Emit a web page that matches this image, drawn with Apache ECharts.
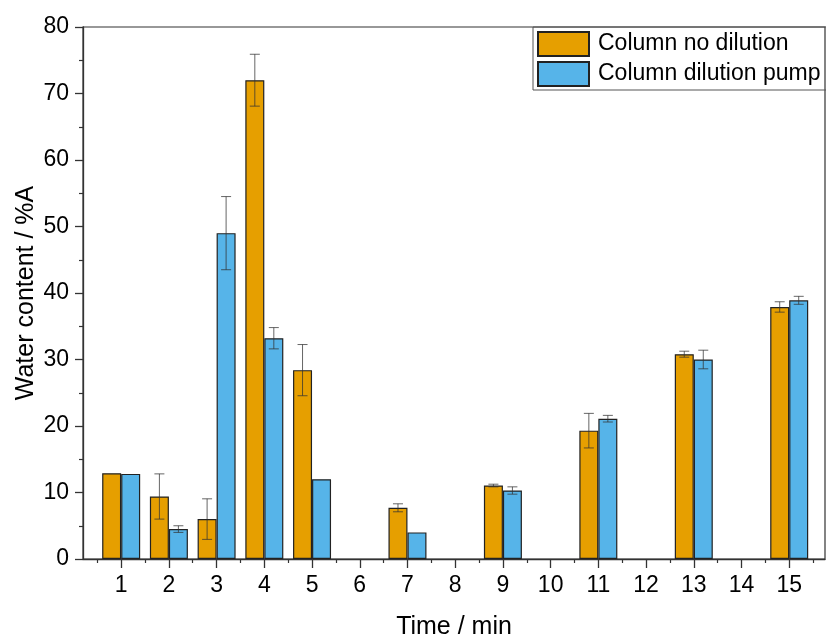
<!DOCTYPE html>
<html>
<head>
<meta charset="utf-8">
<script src="https://cdn.jsdelivr.net/npm/echarts@6/dist/echarts.min.js"></script>
<style>
  html, body { margin: 0; padding: 0; background: #fff; }
  #chart { width: 826px; height: 637px; }
</style>
</head>
<body>
<div id="chart"></div>
<script>
// sampling times (min) that have measurements
const times = [1, 2, 3, 4, 5, 7, 9, 11, 13, 15];
const noDilution = [12.9, 9.4, 6.0, 72.0, 28.4, 7.7, 11.05, 19.3, 30.8, 37.9];
const noDilutionErr = [0, 3.4, 3.05, 3.9, 3.85, 0.6, 0.2, 2.6, 0.45, 0.78];
const dilutionPump = [12.8, 4.5, 49.0, 33.2, 12.0, 4.0, 10.3, 21.1, 30.0, 38.9];
const dilutionPumpErr = [0, 0.5, 5.5, 1.6, 0, 0, 0.55, 0.5, 1.4, 0.6];
const xTicks = [1, 2, 3, 4, 5, 6, 7, 8, 9, 10, 11, 12, 13, 14, 15];
const xMinorTicks = [0.5, 1.5, 2.5, 3.5, 4.5, 5.5, 6.5, 7.5, 8.5, 9.5, 10.5, 11.5, 12.5, 13.5, 14.5, 15.5];

const barW = 19;
const font = 'Arial, "Liberation Sans", sans-serif';

function errorBars(offset) {
  return function (params, api) {
    const x = api.value(0);
    const y = api.value(1);
    const e = api.value(2);
    if (!e) return null;
    const top = api.coord([x, y + e]);
    const bot = api.coord([x, y - e]);
    const cx = top[0] + offset;
    const style = { stroke: '#333', lineWidth: 1, opacity: 0.75 };
    return {
      type: 'group',
      children: [
        { type: 'line', shape: { x1: cx, y1: top[1], x2: cx, y2: bot[1] }, style: style },
        { type: 'line', shape: { x1: cx - 5, y1: top[1], x2: cx + 5, y2: top[1] }, style: style },
        { type: 'line', shape: { x1: cx - 5, y1: bot[1], x2: cx + 5, y2: bot[1] }, style: style }
      ]
    };
  };
}

const chart = echarts.init(document.getElementById('chart'));
const option = {
  animation: false,
  grid: {
    left: 83, right: 1, top: 27, bottom: 78,
    outerBoundsMode: 'none',
    show: true, borderColor: '#333', borderWidth: 1.2
  },
  legend: {
    data: ['Column no dilution', 'Column dilution pump'],
    orient: 'vertical',
    left: 533, top: 27,
    itemWidth: 51, itemHeight: 24, itemGap: 4,
    padding: [4, 20, 3, 4],
    borderColor: '#555', borderWidth: 1,
    icon: 'rect',
    textStyle: { fontSize: 23, fontFamily: font, color: '#000', padding: [0, 0, 0, 4] }
  },
  xAxis: [
    {
      type: 'value', min: 0.2, max: 15.75,
      name: 'Time / min', nameLocation: 'middle', nameGap: 56,
      nameMoveOverlap: false,
      nameTextStyle: { fontSize: 25, fontFamily: font, color: '#000' },
      axisLine: { show: true, lineStyle: { color: '#333', width: 1.3 } },
      axisTick: { show: true, customValues: xTicks, length: 9, lineStyle: { color: '#333', width: 1.3 } },
      axisLabel: { customValues: xTicks, fontSize: 23, fontFamily: font, color: '#000', margin: 15 },
      splitLine: { show: false }
    },
    {
      type: 'value', min: 0.2, max: 15.75, position: 'bottom',
      axisLine: { show: false },
      axisTick: { show: true, customValues: xMinorTicks, length: 4, lineStyle: { color: '#333', width: 1.2 } },
      axisLabel: { show: false },
      splitLine: { show: false }
    }
  ],
  yAxis: {
    type: 'value', min: 0, max: 80, interval: 10,
    name: 'Water content / %A', nameLocation: 'middle', nameGap: 44,
    nameMoveOverlap: false,
    nameTextStyle: { fontSize: 25, fontFamily: font, color: '#000' },
    axisLine: { show: true, lineStyle: { color: '#333', width: 1.3 } },
    axisTick: { show: true, length: 8, lineStyle: { color: '#333', width: 1.3 } },
    minorTick: { show: true, splitNumber: 2, length: 4, lineStyle: { color: '#333', width: 1.2 } },
    axisLabel: { fontSize: 23, fontFamily: font, color: '#000', margin: 14 },
    splitLine: { show: false }
  },
  series: [
    {
      name: 'Column no dilution', type: 'bar',
      barWidth: barW, barGap: '0%',
      itemStyle: { color: '#E69F00', borderColor: '#222', borderWidth: 1.2 },
      data: times.map((t, i) => [t, noDilution[i]])
    },
    {
      name: 'Column dilution pump', type: 'bar',
      barWidth: barW, barGap: '0%',
      itemStyle: { color: '#56B4E9', borderColor: '#222', borderWidth: 1.2 },
      data: times.map((t, i) => [t, dilutionPump[i]])
    },
    {
      type: 'custom', z: 10,
      renderItem: errorBars(-barW / 2),
      data: times.map((t, i) => [t, noDilution[i], noDilutionErr[i]])
    },
    {
      type: 'custom', z: 10,
      renderItem: errorBars(barW / 2),
      data: times.map((t, i) => [t, dilutionPump[i], dilutionPumpErr[i]])
    }
  ]
};
chart.setOption(option);
</script>
</body>
</html>
